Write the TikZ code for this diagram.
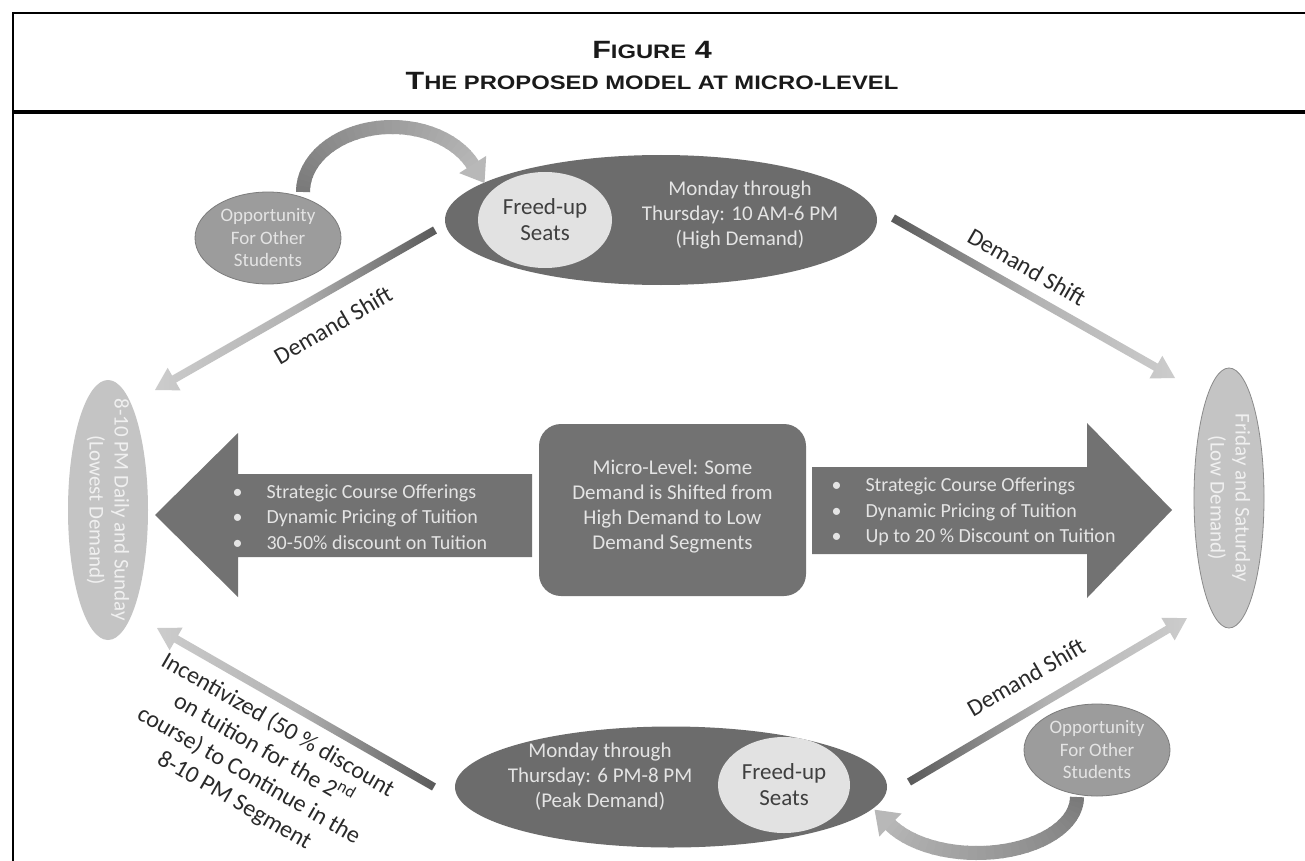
\documentclass[tikz,border=0pt]{standalone}
\usepackage{fontspec}
\setmainfont{Carlito}
\newfontfamily\titlefont[FakeStretch=1.22]{Liberation Sans}
\usetikzlibrary{calc,shapes.geometric}
\definecolor{darkfill}{HTML}{6C6C6C}
\definecolor{boxfill}{HTML}{727272}
\definecolor{seatfill}{HTML}{E2E2E2}
\definecolor{oppfill}{HTML}{9C9C9C}
\definecolor{oppline}{HTML}{7C7C7C}
\definecolor{sidefill}{HTML}{C4C4C4}
\definecolor{sideline}{HTML}{8A8A8A}
\definecolor{lighttext}{HTML}{E4E4E4}
\definecolor{darktext}{HTML}{2A2A2A}
\definecolor{titletext}{HTML}{1A1A1A}
\tikzset{
  period/.style={ellipse, fill=darkfill, inner sep=0pt},
  seats/.style={ellipse, fill=seatfill, text=darktext!90!white, align=center,
    font=\fontsize{23}{26}\selectfont, inner sep=0pt},
  oppo/.style={ellipse, fill=oppfill, draw=oppline, line width=0.8pt, text=lighttext,
    align=center, font=\fontsize{19}{22.5}\selectfont, minimum width=146pt,
    minimum height=92pt, inner sep=0pt},
  side/.style={ellipse, fill=sidefill, minimum height=260pt, inner sep=0pt},
  sidetext/.style={text=white!94!black, rotate=-90, align=center,
    font=\fontsize{21}{25}\selectfont},
  lighttxt/.style={text=lighttext, align=center, font=\fontsize{21}{25}\selectfont},
  bullets/.style={text=lighttext, align=left, font=\fontsize{20}{25.5}\selectfont, anchor=west},
  shiftlabel/.style={text=darktext, font=\fontsize{24}{29}\selectfont, align=center},
  blockarrow/.style={fill=boxfill},
  titlestyle/.style={text=titletext, font=\titlefont\bfseries\fontsize{25}{30}\selectfont},
}
\newcommand{\shiftarrow}[5]{%
  \coordinate (sa-h) at ($(#2)!22pt!(#1)$);
  \shade[left color=#3, right color=#4, middle color=#5]
   ($(#1)!4pt!90:(#2)$) -- ($(sa-h)!4pt!-90:(#1)$) -- ($(sa-h)!13pt!-90:(#1)$) -- (#2)
   -- ($(sa-h)!13pt!90:(#1)$) -- ($(sa-h)!4pt!90:(#1)$) -- ($(#1)!4pt!-90:(#2)$) -- cycle;}
\newcommand{\bsm}[1]{{\fontsize{19.5}{23}\selectfont #1}}
\begin{document}
\begin{tikzpicture}[x=1pt,y=-1pt]
\useasboundingbox (0,0) rectangle (1305,861);
\fill[white] (0,0) rectangle (1305,861);
% frame
\draw[line width=2.5pt] (13,870) -- (13,13) -- (1310,13);
\draw[line width=3.5pt] (13,112) -- (1310,112);
% title
\node[titlestyle] (t1) at (652,50) {F\bsm{IGURE} 4};
\node[titlestyle] (t2) at (652,81) {T\bsm{HE PROPOSED MODEL AT MICRO-LEVEL}};
% period ellipses
\node[period, minimum width=432pt, minimum height=130pt] (te) at (661,220) {};
\node[seats, minimum width=134pt, minimum height=96pt] (tf) at (545,220) {Freed-up\\Seats};
\node[lighttxt] (tt) at (740,215) {Monday through\\Thursday: 10 AM-6 PM\\(High Demand)};
\node[period, minimum width=432pt, minimum height=121pt] (be) at (671,787) {};
\node[seats, minimum width=132pt, minimum height=96pt] (bf) at (784,785) {Freed-up\\Seats};
\node[lighttxt] (bt) at (600,777) {Monday through\\Thursday: 6 PM-8 PM\\(Peak Demand)};
% curved arrow (top)
\coordinate (tc) at (392,192);
\foreach \a in {180,185,...,330}{
  \pgfmathsetmacro\g{52-(\a-180)/155*24}
  \draw[line width=14pt, color=black!\g] ($(tc)+(\a:89 and 65)$) arc[start angle=\a, end angle=\a+6, x radius=89, y radius=65];
}
\coordinate (th1) at (486.2,155.9);
\coordinate (th2) at (484.5,183);
\coordinate (th3) at (459.2,173.1);
\fill[black!28] (th1) -- (th2) -- (th3) -- cycle;
% curved arrow (bottom)
\coordinate (bc) at (977,797);
\foreach \a in {0,5,...,145}{
  \pgfmathsetmacro\g{52-\a/150*24}
  \draw[line width=14pt, color=black!\g] ($(bc)+(\a:100 and 56)$) arc[start angle=\a, end angle=\a+6, x radius=100, y radius=56];
}
\coordinate (bh1) at (901.5,813.5);
\coordinate (bh2) at (874.6,809.7);
\coordinate (bh3) at (879.3,836.5);
\fill[black!28] (bh1) -- (bh2) -- (bh3) -- cycle;
% opportunity ellipses
\node[oppo] (to) at (268,238) {Opportunity\\For Other\\Students};
\node[oppo] (bo) at (1097,750) {Opportunity\\For Other\\Students};
% side ellipses
\node[side, minimum width=80pt] (le) at (108,510) {};
\node[sidetext] (let) at (le) {8-10 PM Daily and Sunday\\(Lowest Demand)};
\node[side, minimum width=70pt, draw=sideline, line width=0.8pt] (re) at (1229,498) {};
\node[sidetext] (ret) at (re) {Friday and Saturday\\(Low Demand)};
% central box
\node[rectangle, rounded corners=22pt, fill=boxfill, minimum width=267pt, minimum height=172pt] (mb) at (672.5,510) {};
\node[lighttxt] (mbt) at (672.5,506.5) {Micro-Level: Some\\Demand is Shifted from\\High Demand to Low\\Demand Segments};
% block arrows
\fill[blockarrow] (155,515) -- (238,433) -- (238,474) -- (532,474) -- (532,557) -- (238,557) -- (238,597) -- cycle;
\fill[blockarrow] (1172,510) -- (1087,423) -- (1087,467) -- (812,467) -- (812,554) -- (1087,554) -- (1087,598) -- cycle;
\node[bullets] (lb) at (229,517) {\makebox[34pt][l]{\textbullet}Strategic Course Offerings\\\makebox[34pt][l]{\textbullet}Dynamic Pricing of Tuition\\\makebox[34pt][l]{\textbullet}30-50\% discount on Tuition};
\node[bullets] (rb) at (828,512) {\makebox[34pt][l]{\textbullet}Strategic Course Offerings\\\makebox[34pt][l]{\textbullet}Dynamic Pricing of Tuition\\\makebox[34pt][l]{\textbullet}Up to 20 \% Discount on Tuition};
% thin demand-shift arrows
\coordinate (a1s) at (435,230); \coordinate (a1e) at (155,390);
\coordinate (a2s) at (893,218); \coordinate (a2e) at (1175,378);
\coordinate (a3s) at (909,782); \coordinate (a3e) at (1187,618);
\coordinate (a4s) at (434,787); \coordinate (a4e) at (157,628);
\shiftarrow{a1s}{a1e}{black!20}{black!65}{black!30}
\shiftarrow{a2s}{a2e}{black!65}{black!20}{black!30}
\shiftarrow{a3s}{a3e}{black!65}{black!20}{black!30}
\shiftarrow{a4s}{a4e}{black!20}{black!65}{black!30}
% labels
\node[shiftlabel, rotate=30] (l1) at (333,325) {Demand Shift};
\node[shiftlabel, rotate=-30] (l2) at (1027,267) {Demand Shift};
\node[shiftlabel, rotate=30] (l3) at (1026,677) {Demand Shift};
\node[shiftlabel, rotate=-30] (l4) at (256,763) {Incentivized (50 \% discount\\on tuition for the 2\textsuperscript{nd}\\course) to Continue in the\\8-10 PM Segment};
\end{tikzpicture}
\end{document}
